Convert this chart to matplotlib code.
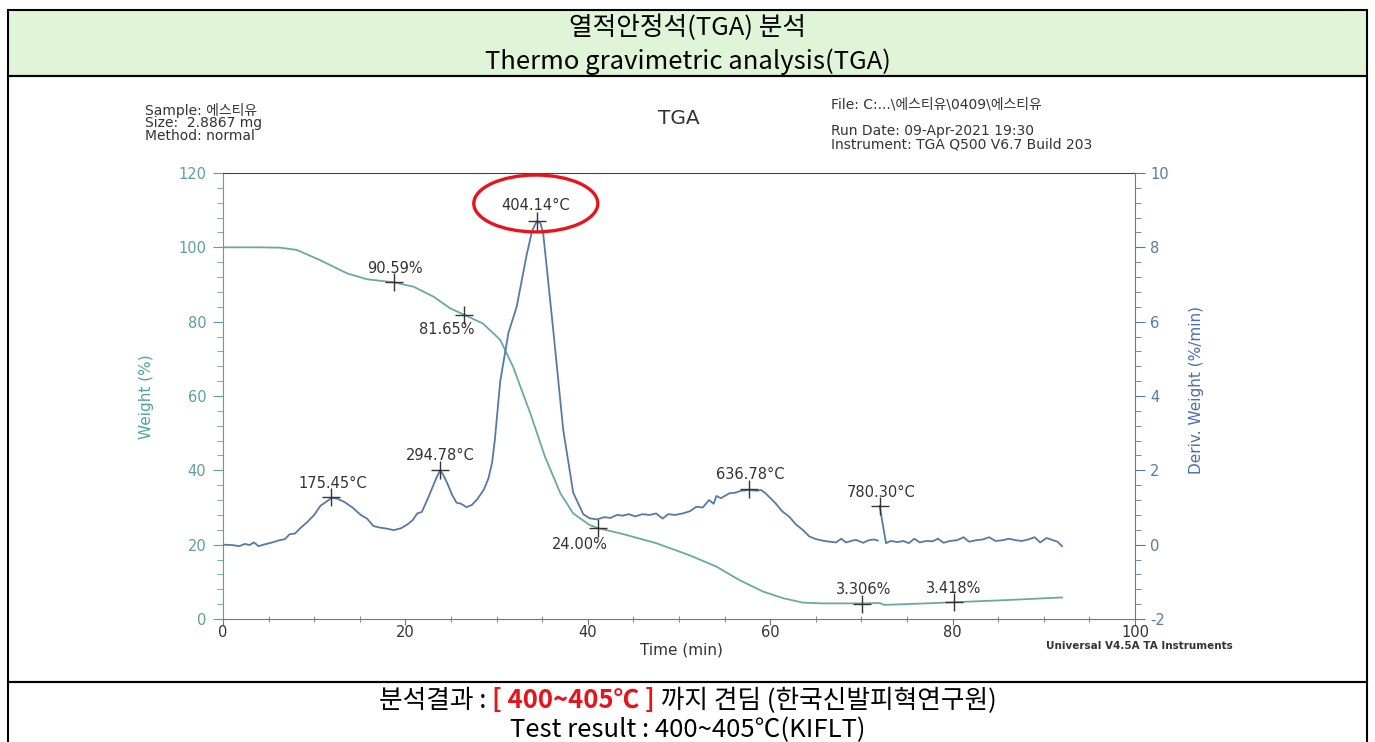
import numpy as np
import matplotlib
matplotlib.use("Agg")
import matplotlib.pyplot as plt
from matplotlib.patches import Ellipse, Rectangle
from matplotlib.ticker import MultipleLocator

plt.rcParams["axes.unicode_minus"] = False

W, H = 1375, 742

# weight curve: time (min), weight (%)
weight_time = [0, 4, 6.3, 8.1, 10.6, 13.6, 15.8, 18.7, 20.9, 23.1, 24.9, 26.5, 28.5,
               30.4, 31.8, 33.7, 35.3, 37.0, 38.4, 40.2, 41.2, 43.8, 47.5, 51.1, 54.1,
               56.6, 59.2, 61.4, 63.6, 65.8, 70.1, 72.0, 72.5, 76, 80.1, 86, 92.0]
weight_pct = [100, 100, 99.9, 99.3, 96.6, 93.0, 91.4, 90.6, 89.4, 86.7, 83.6, 81.8, 79.5,
              75.1, 67.9, 55.3, 43.7, 33.8, 28.4, 25.3, 24.4, 22.9, 20.4, 17.2, 14.1,
              10.5, 7.4, 5.6, 4.4, 4.2, 4.2, 4.3, 3.8, 4.1, 4.5, 5.1, 5.8]

# derivative curve: time (min), deriv. weight (%/min)
deriv_time = [0, 1, 1.8, 2.4, 2.9, 3.4, 3.9, 4.6, 5.4, 6.2, 6.8, 7.3, 7.9, 8.5, 9.2, 10,
              10.7, 11.3, 11.9, 12.5, 13.3, 14.2, 15.1, 15.8, 16.5, 17.2, 18, 18.7, 19.5,
              20.2, 20.8, 21.3, 21.8, 22.3, 22.9, 23.4, 23.8, 24.1, 24.6, 25.1, 25.6, 26.1,
              26.7, 27.3, 27.9, 28.6, 29.1, 29.5, 29.8, 30.4, 31.3, 32.2, 33.3, 33.9, 34.4,
              34.8, 35.1, 36.2, 37.3, 38.4, 39.5, 40.2, 41, 41.8, 42.5, 43.2, 43.8, 44.5,
              45.2, 46, 46.8, 47.5, 48.2, 48.8, 49.6, 50.4, 51.2, 51.9, 52.6, 53.3, 53.8,
              54.1, 54.6, 55.5, 56.2, 56.8, 57.7, 58.5, 59.0, 59.5, 60.6, 61.3, 62.1, 62.8,
              63.6, 64.3, 65.0, 65.7, 66.5, 67.2, 67.8, 68.3, 68.9, 69.4, 70.2, 70.8, 71.4,
              71.8, 72.0, 72.0, 72.7, 73.2, 74.0, 74.6, 75.2, 75.8, 76.4, 77.1, 77.8, 78.4,
              79.0, 79.7, 80.5, 81.2, 81.8, 82.6, 83.3, 84.0, 84.7, 85.5, 86.2, 86.9, 87.6,
              88.3, 89.0, 89.6, 90.3, 91.0, 91.5, 92.0]
deriv_val = [0.0, -0.01, -0.04, 0.02, -0.01, 0.06, -0.04, 0.01, 0.06, 0.12, 0.15, 0.28,
             0.30, 0.45, 0.6, 0.8, 1.05, 1.15, 1.26, 1.24, 1.15, 1.0, 0.8, 0.7, 0.5, 0.46,
             0.43, 0.39, 0.44, 0.54, 0.66, 0.84, 0.88, 1.15, 1.5, 1.8, 2.0, 1.9, 1.65, 1.35,
             1.13, 1.1, 1.01, 1.07, 1.23, 1.48, 1.78, 2.2, 2.8, 4.4, 5.7, 6.4, 7.8, 8.45,
             8.7, 8.65, 8.4, 5.8, 3.1, 1.4, 0.82, 0.71, 0.68, 0.74, 0.72, 0.8, 0.78, 0.82,
             0.76, 0.82, 0.8, 0.84, 0.7, 0.82, 0.8, 0.84, 0.9, 1.02, 1.0, 1.2, 1.1, 1.31,
             1.25, 1.38, 1.4, 1.45, 1.47, 1.45, 1.47, 1.38, 1.11, 0.9, 0.75, 0.55, 0.39,
             0.22, 0.15, 0.11, 0.08, 0.06, 0.16, 0.06, 0.1, 0.13, 0.05, 0.12, 0.14, 0.11,
             np.nan, 1.04, 0.04, 0.1, 0.07, 0.1, 0.04, 0.16, 0.06, 0.1, 0.09, 0.16, 0.05,
             0.1, 0.12, 0.2, 0.08, 0.12, 0.14, 0.2, 0.1, 0.12, 0.16, 0.12, 0.1, 0.14, 0.2,
             0.06, 0.18, 0.12, 0.08, -0.04]

# marked points
peak_time = [11.8, 23.8, 34.4, 57.7, 72.0]
peak_deriv = [1.28, 2.01, 8.71, 1.5, 1.04]
peak_labels = ["175.45°C", "294.78°C", "404.14°C", "636.78°C", "780.30°C"]
step_time = [18.8, 26.4, 41.1, 70.1, 80.1]
step_weight = [90.6, 81.8, 24.4, 4.0, 4.5]
step_labels = ["90.59%", "81.65%", "24.00%", "3.306%", "3.418%"]

# label offsets in pixels from the marker
peak_offsets = [(2, 14), (0, 14), (-1, 15), (1, 14), (1, 14)]
step_offsets = [(0, 14), (-17, -15), (-18, -16), (1, 15), (0, 14)]

teal = "#5e9f9d"
blue = "#557aa6"
gray = "#333333"
cjk = ["DejaVu Sans", "Noto Sans CJK KR"]
kr = ["Noto Sans CJK KR", "DejaVu Sans"]
big = 18.5


def fx(x):
    return x / W


def fy(y):
    return 1 - y / H


fig = plt.figure(figsize=(W / 100, H / 100), dpi=100)
fig.patch.set_facecolor("white")

# table frame
fig.add_artist(Rectangle((fx(8), fy(76)), fx(1359), 66 / H, transform=fig.transFigure,
                         facecolor="#e0f4d8", edgecolor="black", lw=1.5, zorder=-1))
fig.add_artist(Rectangle((fx(8), fy(682)), fx(1359), 606 / H, transform=fig.transFigure,
                         facecolor="none", edgecolor="black", lw=1.5, zorder=5))
fig.add_artist(Rectangle((fx(8), fy(750)), fx(1359), 68 / H, transform=fig.transFigure,
                         facecolor="none", edgecolor="black", lw=1.5, zorder=5))

fig.text(0.5, fy(35), "열적안정석(TGA) 분석", ha="center", va="baseline", fontsize=big, family=kr)
fig.text(0.5, fy(69), "Thermo gravimetric analysis(TGA)", ha="center", va="baseline",
         fontsize=big, family=kr)

# bottom result line with red part
renderer = fig.canvas.get_renderer()
parts = [("분석결과 : ", "black", "normal"), ("[ 400~405℃ ]", "#e8141c", "bold"),
         (" 까지 견딤 (한국신발피혁연구원)", "black", "normal")]
texts = [fig.text(0, fy(708), s, color=c, fontweight=w, fontsize=big, family=kr,
                  ha="left", va="baseline") for s, c, w in parts]
widths = [t.get_window_extent(renderer).width for t in texts]
x = (W - sum(widths)) / 2
for t, w in zip(texts, widths):
    t.set_x(fx(x))
    x += w
fig.text(0.5, fy(737), "Test result : 400~405℃(KIFLT)", ha="center", va="baseline",
         fontsize=big, family=kr)

# instrument header
fs = 10
fig.text(fx(145), fy(110), "Sample: 에스티유", fontsize=fs, family=cjk, color=gray, va="center")
fig.text(fx(145), fy(123), "Size:  2.8867 mg", fontsize=fs, family=cjk, color=gray, va="center")
fig.text(fx(145), fy(136), "Method: normal", fontsize=fs, family=cjk, color=gray, va="center")
fig.text(fx(679), fy(118), "TGA", fontsize=14.5, color=gray, ha="center", va="center")
fig.text(fx(831), fy(104), r"File: C:...\에스티유\0409\에스티유", fontsize=fs, family=cjk,
         color=gray, va="center")
fig.text(fx(831), fy(131), "Run Date: 09-Apr-2021 19:30", fontsize=fs, color=gray, va="center")
fig.text(fx(831), fy(145), "Instrument: TGA Q500 V6.7 Build 203", fontsize=fs, color=gray,
         va="center")
fig.text(fx(1139), fy(646), "Universal V4.5A TA Instruments", fontsize=7.5, color=gray,
         ha="center", va="center", fontweight="bold")

# plot
ax = fig.add_axes([fx(223), fy(619), 912 / W, 446 / H])
ax2 = ax.twinx()

ax.plot(weight_time, weight_pct, color="#6aa8a6", lw=1.3)
ax2.plot(deriv_time, deriv_val, color=blue, lw=1.3)

for t, v, s, off in zip(step_time, step_weight, step_labels, step_offsets):
    ax.plot(t, v, "+", color=gray, ms=13, mew=1.0)
    ax.annotate(s, (t, v), xytext=off, textcoords="offset pixels", ha="center",
                va="center", fontsize=10.5, color=gray)
for t, v, s, off in zip(peak_time, peak_deriv, peak_labels, peak_offsets):
    ax2.plot(t, v, "+", color=gray, ms=13, mew=1.0)
    ax2.annotate(s, (t, v), xytext=off, textcoords="offset pixels", ha="center",
                 va="center", fontsize=10.5, color=gray)

ax2.add_patch(Ellipse((34.3, 9.18), 13.6, 1.53, facecolor="none", edgecolor="#e8141c",
                      lw=2.4, clip_on=False, zorder=6))

ax.set_xlim(0, 100)
ax.set_ylim(0, 120)
ax2.set_ylim(-2, 10)
ax.xaxis.set_major_locator(MultipleLocator(20))
ax.xaxis.set_minor_locator(MultipleLocator(5))
ax.yaxis.set_major_locator(MultipleLocator(20))
ax.yaxis.set_minor_locator(MultipleLocator(4))
ax2.yaxis.set_major_locator(MultipleLocator(2))
ax2.yaxis.set_minor_locator(MultipleLocator(0.4))

ax.tick_params(axis="x", which="major", direction="out", length=4, color="#777",
               labelcolor=gray, labelsize=10.5, pad=0)
ax.tick_params(axis="x", which="minor", direction="inout", length=4, color="#777")
ax.tick_params(axis="y", which="major", direction="out", length=7, color=teal,
               labelcolor=teal, labelsize=10.5, pad=5)
ax.tick_params(axis="y", which="minor", direction="out", length=4, color=teal)
ax2.tick_params(axis="y", which="major", direction="out", length=7, color=blue,
                labelcolor=blue, labelsize=10.5, pad=4)
ax2.tick_params(axis="y", which="minor", direction="out", length=4, color=blue)

ax.spines["left"].set_color(teal)
ax.spines["bottom"].set_color("#777")
ax.spines["top"].set_color("#444")
ax.spines["right"].set_visible(False)
for side in ["left", "top", "bottom"]:
    ax2.spines[side].set_visible(False)
ax2.spines["right"].set_color(blue)

fig.text(fx(681), fy(650), "Time (min)", fontsize=11, color=gray, ha="center", va="center")
fig.text(fx(146), fy(397), "Weight (%)", rotation=90, fontsize=11, color="#4fa3a0",
         ha="center", va="center")
fig.text(fx(1197), fy(390), "Deriv. Weight (%/min)", rotation=90, fontsize=11,
         color="#4a6cb0", ha="center", va="center")

fig.savefig("out.png", dpi=100)
